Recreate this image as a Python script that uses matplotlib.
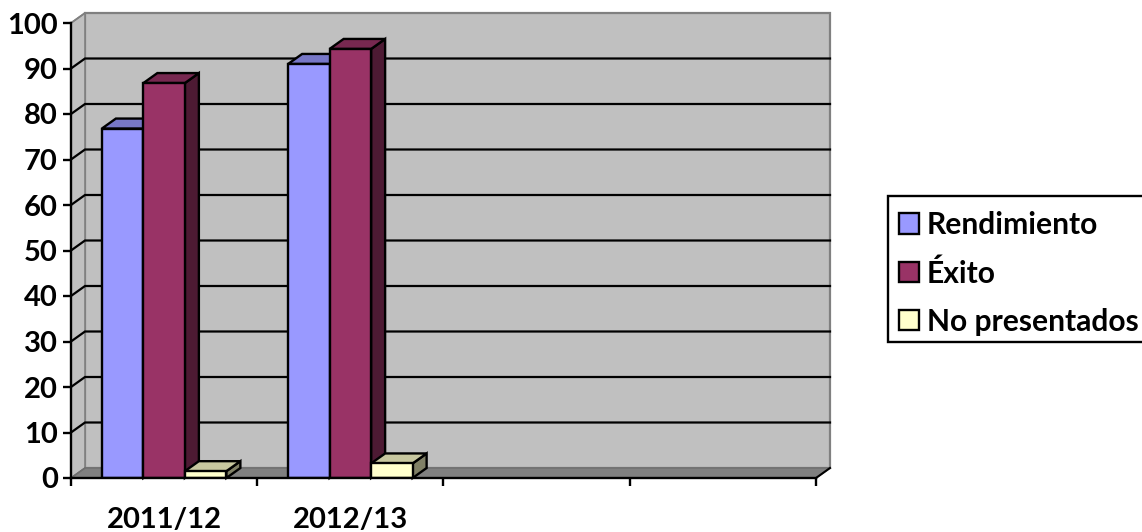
import matplotlib
matplotlib.use("Agg")
import matplotlib.pyplot as plt
from matplotlib.patches import Polygon, Patch, Rectangle

years = ['2011/12', '2012/13']
rendimiento = [76.8, 91]
exito = [86.8, 94.3]
no_presentados = [1.5, 3.2]
series_names = ['Rendimiento', 'Éxito', 'No presentados']
y_ticks = [0, 10, 20, 30, 40, 50, 60, 70, 80, 90, 100]

W, H = 1142, 532
FONT = 'Lato'
FONT_SIZE = 21

# front plane of the 3d box in pixels
left, right, top, bottom = 71, 816, 23, 478
fig = plt.figure(figsize=(W / 100, H / 100), dpi=100)
ax = fig.add_axes([left / W, 1 - bottom / H, (right - left) / W, (bottom - top) / H])
ax.set_xlim(0, 4)
ax.set_ylim(0, 100)

# depth of the box in data units
dx = 14 / (right - left) * 4
dy = 10 / (bottom - top) * 100
bar_w = 41.5 / (right - left) * 4

ax.patch.set_visible(False)
for s in ['top', 'right']:
    ax.spines[s].set_visible(False)
for s in ['left', 'bottom']:
    ax.spines[s].set_linewidth(1.7)
    ax.spines[s].set_zorder(8)

# walls and floor
ax.add_patch(Polygon([(dx, dy), (4 + dx, dy), (4 + dx, 100 + dy), (dx, 100 + dy)],
                     fc='#C0C0C0', ec='#808080', lw=1.6, clip_on=False, zorder=1))
ax.add_patch(Polygon([(0, 0), (dx, dy), (dx, 100 + dy), (0, 100)],
                     fc='#C0C0C0', ec='#808080', lw=1.2, clip_on=False, zorder=1))
ax.add_patch(Polygon([(0, 0), (4, 0), (4 + dx, dy), (dx, dy)],
                     fc='#808080', ec='#6E6E6E', lw=1, clip_on=False, zorder=2))
ax.plot([4, 4 + dx], [0, dy], color='black', lw=1.5, clip_on=False, zorder=3)

# gridlines on back wall and side wall
for v in y_ticks[1:-1]:
    ax.plot([0, dx, 4 + dx], [v, v + dy, v + dy], color='black', lw=1.6,
            clip_on=False, zorder=3, solid_joinstyle='miter')
ax.plot([0, dx], [0, dy], color='#6E6E6E', lw=1, clip_on=False, zorder=3)
ax.plot([0, dx], [100, 100 + dy], color='#808080', lw=1.2, clip_on=False, zorder=3)


def shade(color, f):
    r, g, b = matplotlib.colors.to_rgb(color)
    return (r * f, g * f, b * f)


def bar3d(x, h, color, z):
    ec = 'black'
    lw = 1.7
    ax.add_patch(Polygon([(x + bar_w, 0), (x + bar_w + dx, dy), (x + bar_w + dx, h + dy), (x + bar_w, h)],
                         fc=shade(color, 0.5), ec=ec, lw=lw, clip_on=False, zorder=z))
    ax.add_patch(Polygon([(x, h), (x + bar_w, h), (x + bar_w + dx, h + dy), (x + dx, h + dy)],
                         fc=shade(color, 0.78), ec=ec, lw=lw, clip_on=False, zorder=z))
    ax.bar(x, h, bar_w, align='edge', color=color, edgecolor=ec, linewidth=lw, zorder=z + 0.5)


colors = ['#9999FF', '#993366', '#FFFFCC']
series = [rendimiento, exito, no_presentados]
for i in range(len(years)):
    for j in range(3):
        x0 = i + 0.5 - 1.5 * bar_w + j * bar_w
        bar3d(x0, series[j][i], colors[j], 4 + j)

ax.set_yticks(y_ticks)
ax.set_xticks([0, 1, 2, 3, 4])
ax.set_xticklabels([])
ax.tick_params(axis='both', length=5.5, width=1.7, color='black')
ax.tick_params(axis='y', pad=4)
for t in ax.get_yticklabels():
    t.set_fontfamily(FONT)
    t.set_fontweight('bold')
    t.set_fontsize(FONT_SIZE)
for i, name in enumerate(years):
    ax.annotate(name, (i + 0.5, 0), xytext=(0, -29), textcoords='offset pixels', ha='center', va='top',
                fontfamily=FONT, fontweight='bold', fontsize=FONT_SIZE, annotation_clip=False)

# legend frame runs off the right edge like in the original
fig.add_artist(Rectangle((888 / W, 1 - 342 / H), 262 / W, 146 / H, transform=fig.transFigure,
                         fc='white', ec='black', lw=1.7, zorder=-1))
handles = [Patch(fc=c, ec='black', lw=1.7) for c in colors]
leg = ax.legend(handles, series_names, loc='upper left', bbox_to_anchor=(899 / W, 1 - 211 / H),
                bbox_transform=fig.transFigure, frameon=False,
                prop={'family': FONT, 'weight': 'bold', 'size': 21.6}, handlelength=0.68, handleheight=0.68,
                handletextpad=0.25, labelspacing=0.67, borderpad=0, borderaxespad=0)

fig.savefig('out.png', dpi=100)
